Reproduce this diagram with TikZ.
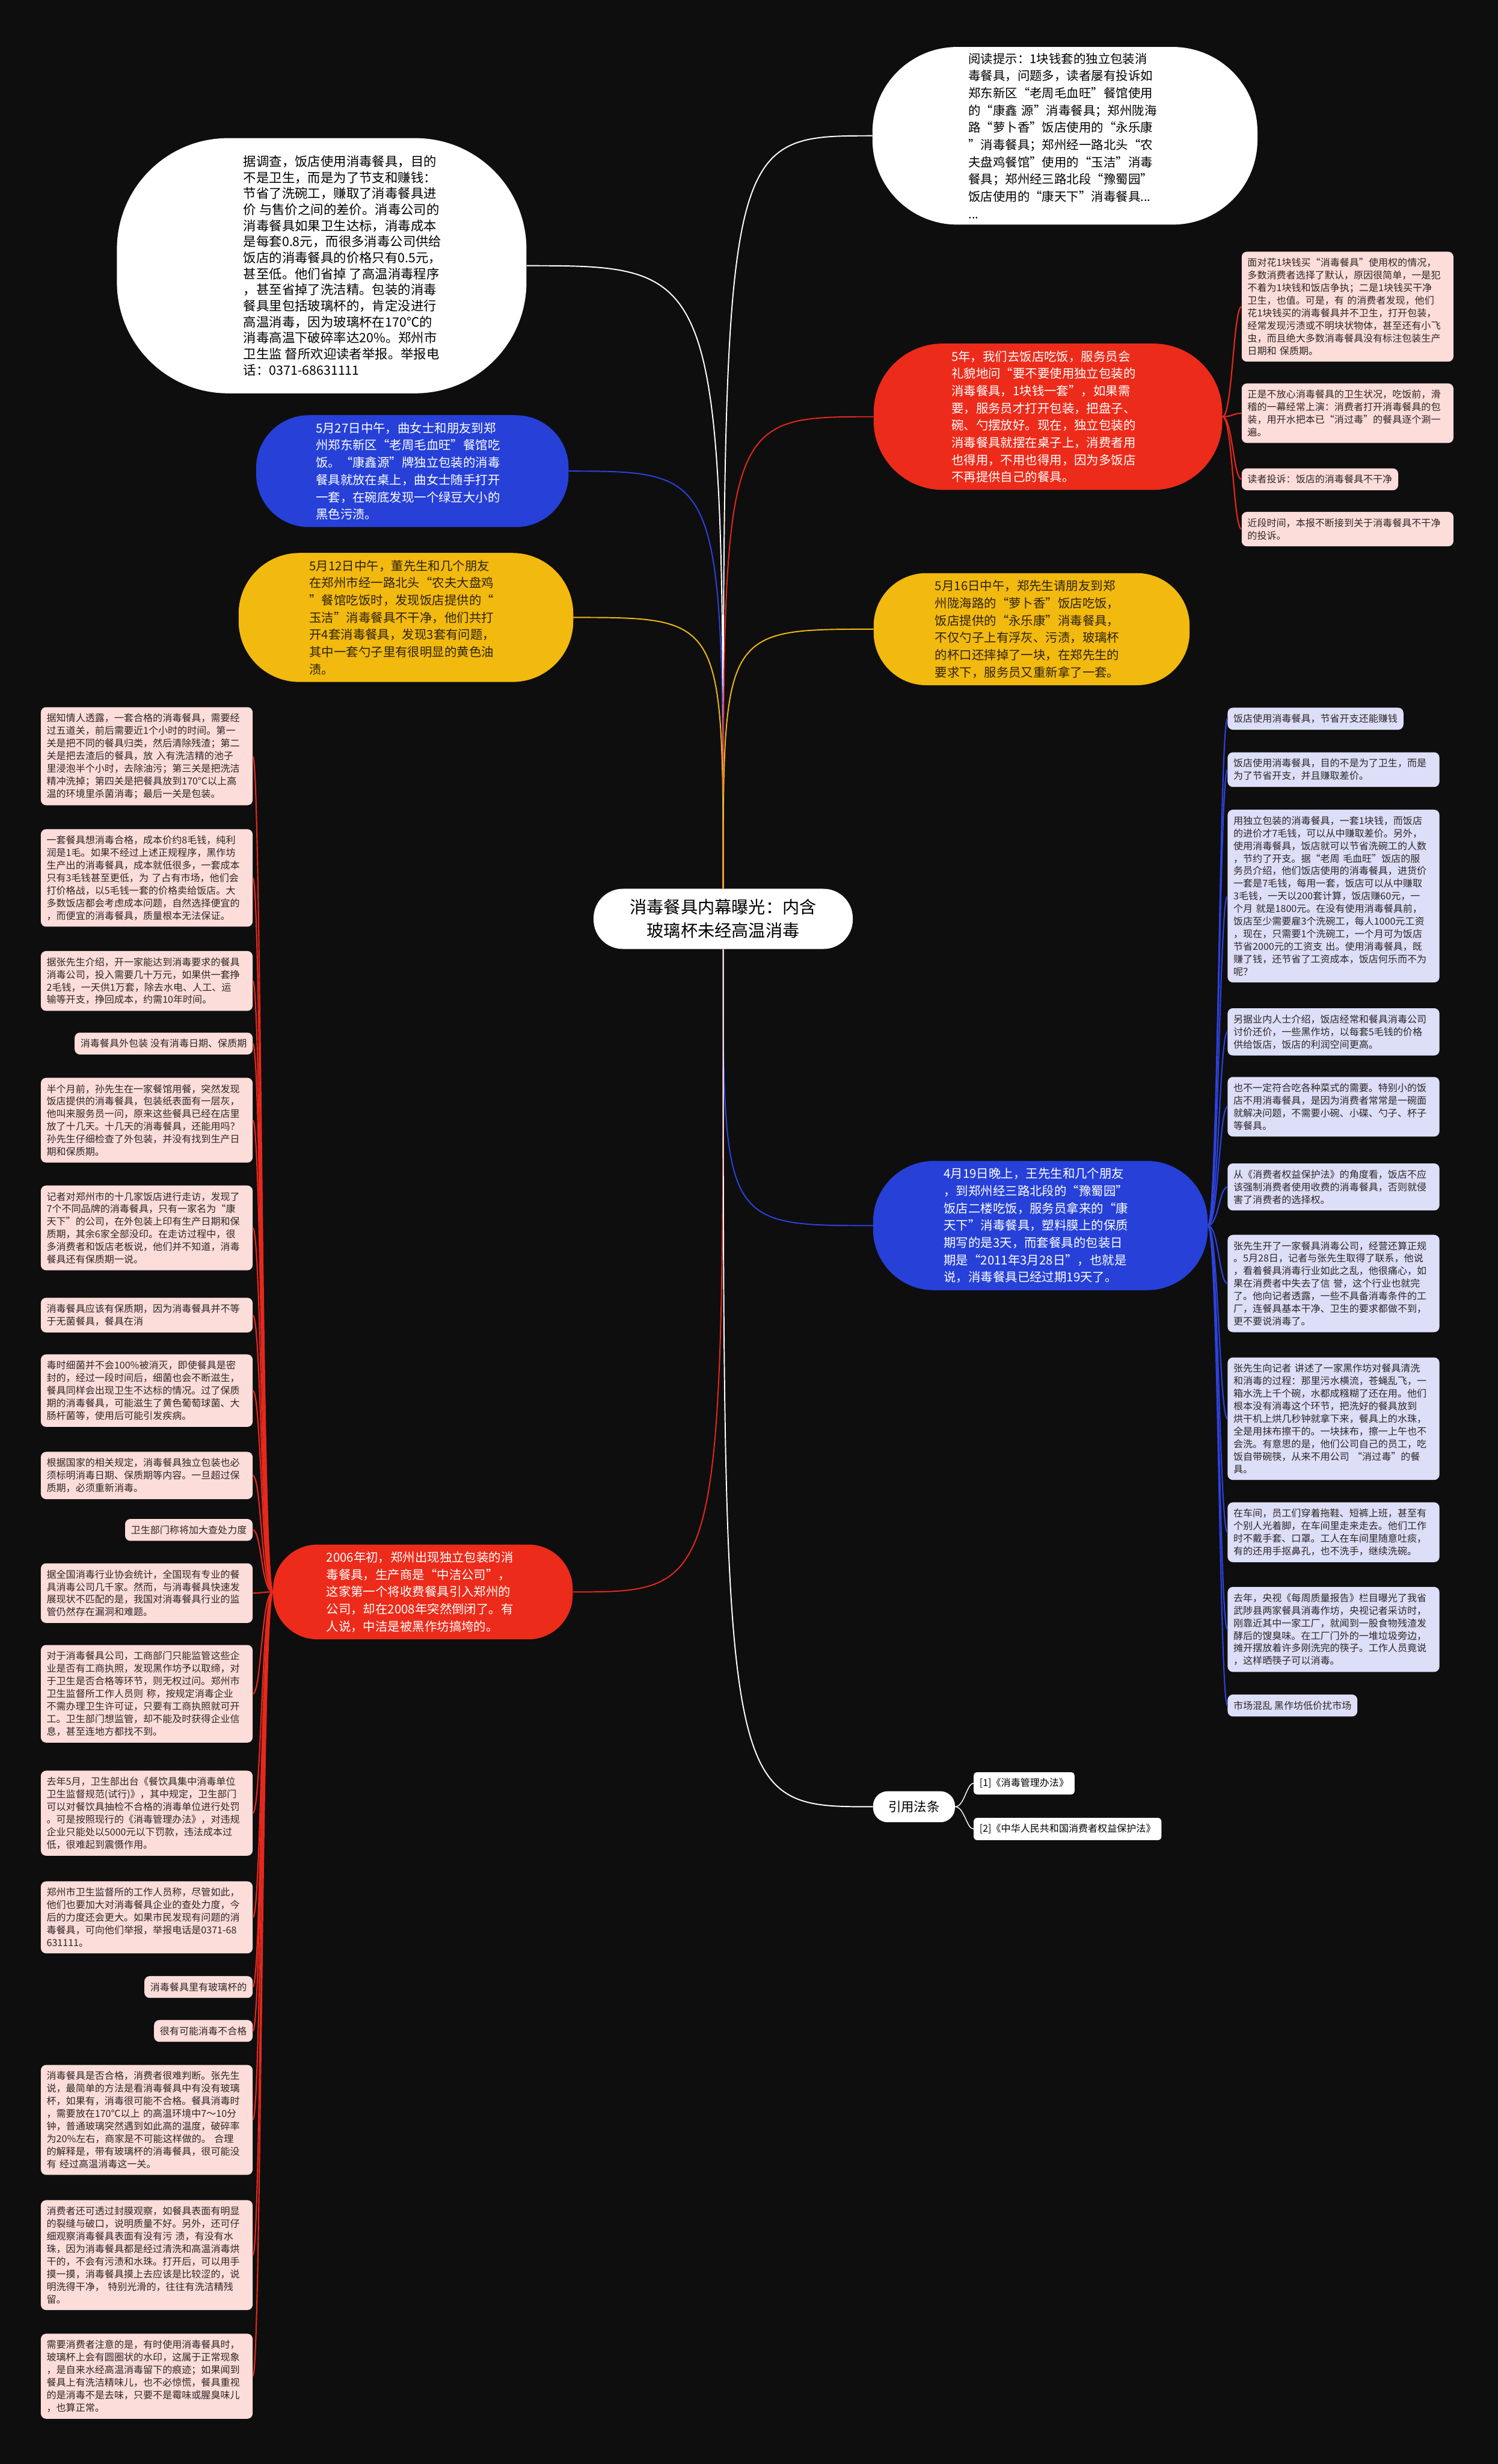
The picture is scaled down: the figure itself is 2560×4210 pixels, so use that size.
\documentclass[tikz,border=0pt]{standalone}
\usepackage{fontspec}
\setmainfont{Noto Sans CJK SC}
\usepackage{xcolor}
\usetikzlibrary{shapes.misc}

\definecolor{bgblack}{RGB}{14,14,14}
\definecolor{pillblue}{RGB}{38,64,216}
\definecolor{pillyellow}{RGB}{242,185,15}
\definecolor{pillred}{RGB}{237,43,26}
\definecolor{pilltext}{RGB}{45,35,10}
\definecolor{boxpink}{RGB}{252,221,217}
\definecolor{boxlav}{RGB}{221,222,247}
\definecolor{boxtext}{RGB}{45,38,40}
\definecolor{linered}{RGB}{230,40,28}
\definecolor{lineblue}{RGB}{45,66,222}

\tikzset{
    pill/.style={rectangle, fill=#1, inner ysep=12pt,
        text width=330pt, align=left, font=\fontsize{21}{29.5}\selectfont},
    pinkbox/.style={rectangle, rounded corners=9pt, fill=boxpink, text=boxtext,
        inner xsep=10pt, inner ysep=11pt, align=left, font=\fontsize{16.5}{21.5}\selectfont},
    lavbox/.style={pinkbox, fill=boxlav},
    wide/.style={text width=342pt},
    lawbox/.style={rectangle, rounded corners=6pt, fill=white, text=black,
        minimum height=38pt, inner xsep=10pt, font=\fontsize{16.5}{19}\selectfont, anchor=west},
    trunk/.style={line width=2pt},
    twig/.style={line width=2.2pt},
}

\begin{document}
\begin{tikzpicture}[x=1pt, y=-1pt]

    \fill[bgblack] (0,0) rectangle (2560,4210);

    % centre

    \node[rectangle, rounded corners=50pt, fill=white, text=black, align=center, inner xsep=62pt, inner ysep=18pt,
        font=\fontsize{29}{40}\selectfont] (root) at (1236,1570) {消毒餐具内幕曝光：内含\\玻璃杯未经高温消毒};

    % upper half

    \node[rectangle, rounded corners=190pt, fill=white, minimum width=700pt, minimum height=436pt,
        anchor=east] (survey) at (900,454) {};
    \node[text=black, inner sep=0pt, align=left, font=\fontsize{22}{27.4}\selectfont, anchor=west] (surveytxt) at (416,454)
        {据调查，饭店使用消毒餐具，目的\\不是卫生，而是为了节支和赚钱：\\节省了洗碗工，赚取了消毒餐具进\\价 与售价之间的差价。消毒公司的\\消毒餐具如果卫生达标，消毒成本\\是每套0.8元，而很多消毒公司供给\\饭店的消毒餐具的价格只有0.5元，\\甚至低。他们省掉 了高温消毒程序\\，甚至省掉了洗洁精。包装的消毒\\餐具里包括玻璃杯的，肯定没进行\\高温消毒，因为玻璃杯在170℃的\\消毒高温下破碎率达20\%。郑州市\\卫生监 督所欢迎读者举报。举报电\\话：0371-68631111};

    \node[pill=pillblue, text=white, inner xsep=102pt, rounded corners=90pt, anchor=east] (may27) at (972,805)
        {5月27日中午，曲女士和朋友到郑\\州郑东新区“老周毛血旺”餐馆吃\\饭。“康鑫源”牌独立包装的消毒\\餐具就放在桌上，曲女士随手打开\\一套，在碗底发现一个绿豆大小的\\黑色污渍。};

    \node[pill=pillyellow, text=pilltext, inner xsep=121pt, rounded corners=104pt, anchor=east] (may12) at (980,1055)
        {5月12日中午，董先生和几个朋友\\在郑州市经一路北头“农夫大盘鸡\\”餐馆吃饭时，发现饭店提供的“\\玉洁”消毒餐具不干净，他们共打\\开4套消毒餐具，发现3套有问题，\\其中一套勺子里有很明显的黄色油\\渍。};

    \node[pill=white, text=black, inner xsep=164pt, inner ysep=10pt, rounded corners=145pt, anchor=west] (hint) at (1491,232)
        {阅读提示：1块钱套的独立包装消\\毒餐具，问题多，读者屡有投诉如\\郑东新区“老周毛血旺”餐馆使用\\的“康鑫 源”消毒餐具；郑州陇海\\路“萝卜香”饭店使用的“永乐康\\”消毒餐具；郑州经一路北头“农\\夫盘鸡餐馆”使用的“玉洁”消毒\\餐具；郑州经三路北段“豫蜀园”\\饭店使用的“康天下”消毒餐具...\\...};

    \node[pill=pillred, text=white, inner xsep=133pt, rounded corners=118pt, anchor=west] (fiveyr) at (1493,712)
        {5年，我们去饭店吃饭，服务员会\\礼貌地问“要不要使用独立包装的\\消毒餐具，1块钱一套”，如果需\\要，服务员才打开包装，把盘子、\\碗、勺摆放好。现在，独立包装的\\消毒餐具就摆在桌子上，消费者用\\也得用，不用也得用，因为多饭店\\不再提供自己的餐具。};

    \node[pill=pillyellow, text=pilltext, inner xsep=105pt, rounded corners=90pt, anchor=west] (may16) at (1493,1075)
        {5月16日中午，郑先生请朋友到郑\\州陇海路的“萝卜香”饭店吃饭，\\饭店提供的“永乐康”消毒餐具，\\不仅勺子上有浮灰、污渍，玻璃杯\\的杯口还摔掉了一块，在郑先生的\\要求下，服务员又重新拿了一套。};

    % complaints

    \node[pinkbox, wide, anchor=west] (p1) at (2122,524) {面对花1块钱买“消毒餐具”使用权的情况，\\多数消费者选择了默认，原因很简单，一是犯\\不着为1块钱和饭店争执；二是1块钱买干净\\卫生，也值。可是，有 的消费者发现，他们\\花1块钱买的消毒餐具并不卫生，打开包装，\\经常发现污渍或不明块状物体，甚至还有小飞\\虫，而且绝大多数消毒餐具没有标注包装生产\\日期和 保质期。};
    \node[pinkbox, wide, anchor=west] (p2) at (2122,706) {正是不放心消毒餐具的卫生状况，吃饭前，滑\\稽的一幕经常上演：消费者打开消毒餐具的包\\装，用开水把本已“消过毒”的餐具逐个涮一\\遍。};
    \node[pinkbox, anchor=west] (p3) at (2122,819) {读者投诉：饭店的消毒餐具不干净};
    \node[pinkbox, wide, anchor=west] (p4) at (2122,904) {近段时间，本报不断接到关于消毒餐具不干净\\的投诉。};

    % lower half

    \node[pill=pillblue, text=white, inner xsep=121pt, rounded corners=104pt, anchor=west] (apr19) at (1492,2094)
        {4月19日晚上，王先生和几个朋友\\，到郑州经三路北段的“豫蜀园”\\饭店二楼吃饭，服务员拿来的“康\\天下”消毒餐具，塑料膜上的保质\\期写的是3天，而套餐具的包装日\\期是“2011年3月28日”，也就是\\说，消毒餐具已经过期19天了。};

    \node[pill=pillred, text=white, inner xsep=91pt, rounded corners=76pt, anchor=east] (y2006) at (979,2720)
        {2006年初，郑州出现独立包装的消\\毒餐具，生产商是“中洁公司”，\\这家第一个将收费餐具引入郑州的\\公司，却在2008年突然倒闭了。有\\人说，中洁是被黑作坊搞垮的。};

    \node[rectangle, rounded corners=25pt, fill=white, text=black, minimum height=53pt, inner xsep=26pt,
        font=\fontsize{22}{26}\selectfont, anchor=west] (laws) at (1492,3087) {引用法条};
    \node[lawbox] (law1) at (1664,3047) {[1]《消毒管理办法》};
    \node[lawbox] (law2) at (1664,3125) {[2]《中华人民共和国消费者权益保护法》};

    % right column

    \node[lavbox, anchor=west] (r1) at (2098,1228) {饭店使用消毒餐具，节省开支还能赚钱};
    \node[lavbox, wide, anchor=west] (r2) at (2098,1315) {饭店使用消毒餐具，目的不是为了卫生，而是\\为了节省开支，并且赚取差价。};
    \node[lavbox, wide, anchor=west] (r3) at (2098,1531) {用独立包装的消毒餐具，一套1块钱，而饭店\\的进价才7毛钱，可以从中赚取差价。另外，\\使用消毒餐具，饭店就可以节省洗碗工的人数\\，节约了开支。据“老周 毛血旺”饭店的服\\务员介绍，他们饭店使用的消毒餐具，进货价\\一套是7毛钱，每用一套，饭店可以从中赚取\\3毛钱，一天以200套计算，饭店赚60元，一\\个月 就是1800元。在没有使用消毒餐具前，\\饭店至少需要雇3个洗碗工，每人1000元工资\\，现在，只需要1个洗碗工，一个月可为饭店\\节省2000元的工资支 出。使用消毒餐具，既\\赚了钱，还节省了工资成本，饭店何乐而不为\\呢？};
    \node[lavbox, wide, anchor=west] (r4) at (2098,1763) {另据业内人士介绍，饭店经常和餐具消毒公司\\讨价还价，一些黑作坊，以每套5毛钱的价格\\供给饭店，饭店的利润空间更高。};
    \node[lavbox, wide, anchor=west] (r5) at (2098,1891) {也不一定符合吃各种菜式的需要。特别小的饭\\店不用消毒餐具，是因为消费者常常是一碗面\\就解决问题，不需要小碗、小碟、勺子、杯子\\等餐具。};
    \node[lavbox, wide, anchor=west] (r6) at (2098,2028) {从《消费者权益保护法》的角度看，饭店不应\\该强制消费者使用收费的消毒餐具，否则就侵\\害了消费者的选择权。};
    \node[lavbox, wide, anchor=west] (r7) at (2098,2193) {张先生开了一家餐具消毒公司，经营还算正规\\。5月28日，记者与张先生取得了联系，他说\\，看着餐具消毒行业如此之乱，他很痛心，如\\果在消费者中失去了信 誉，这个行业也就完\\了。他向记者透露，一些不具备消毒条件的工\\厂，连餐具基本干净、卫生的要求都做不到，\\更不要说消毒了。};
    \node[lavbox, wide, anchor=west] (r8) at (2098,2424) {张先生向记者 讲述了一家黑作坊对餐具清洗\\和消毒的过程：那里污水横流，苍蝇乱飞，一\\箱水洗上千个碗，水都成糨糊了还在用。他们\\根本没有消毒这个环节，把洗好的餐具放到\\烘干机上烘几秒钟就拿下来，餐具上的水珠，\\全是用抹布擦干的。一块抹布，擦一上午也不\\会洗。有意思的是，他们公司自己的员工，吃\\饭自带碗筷，从来不用公司 “消过毒”的餐\\具。};
    \node[lavbox, wide, anchor=west] (r9) at (2098,2618) {在车间，员工们穿着拖鞋、短裤上班，甚至有\\个别人光着脚，在车间里走来走去。他们工作\\时不戴手套、口罩。工人在车间里随意吐痰，\\有的还用手抠鼻孔，也不洗手，继续洗碗。};
    \node[lavbox, wide, anchor=west] (r10) at (2098,2784) {去年，央视《每周质量报告》栏目曝光了我省\\武陟县两家餐具消毒作坊，央视记者采访时，\\刚靠近其中一家工厂，就闻到一股食物残渣发\\酵后的馊臭味。在工厂门外的一堆垃圾旁边，\\摊开摆放着许多刚洗完的筷子。工作人员竟说\\，这样晒筷子可以消毒。};
    \node[lavbox, anchor=west] (r11) at (2098,2914) {市场混乱 黑作坊低价扰市场};

    % left column

    \node[pinkbox, wide, anchor=east] (q1) at (432,1292) {据知情人透露，一套合格的消毒餐具，需要经\\过五道关，前后需要近1个小时的时间。第一\\关是把不同的餐具归类，然后清除残渣；第二\\关是把去渣后的餐具，放 入有洗洁精的池子\\里浸泡半个小时，去除油污；第三关是把洗洁\\精冲洗掉；第四关是把餐具放到170℃以上高\\温的环境里杀菌消毒；最后一关是包装。};
    \node[pinkbox, wide, anchor=east] (q2) at (432,1500) {一套餐具想消毒合格，成本价约8毛钱，纯利\\润是1毛。如果不经过上述正规程序，黑作坊\\生产出的消毒餐具，成本就低很多，一套成本\\只有3毛钱甚至更低，为 了占有市场，他们会\\打价格战，以5毛钱一套的价格卖给饭店。大\\多数饭店都会考虑成本问题，自然选择便宜的\\，而便宜的消毒餐具，质量根本无法保证。};
    \node[pinkbox, wide, anchor=east] (q3) at (432,1676) {据张先生介绍，开一家能达到消毒要求的餐具\\消毒公司，投入需要几十万元，如果供一套挣\\2毛钱，一天供1万套，除去水电、人工、运\\输等开支，挣回成本，约需10年时间。};
    \node[pinkbox, anchor=east] (q4) at (432,1783) {消毒餐具外包装 没有消毒日期、保质期};
    \node[pinkbox, wide, anchor=east] (q5) at (432,1914) {半个月前，孙先生在一家餐馆用餐，突然发现\\饭店提供的消毒餐具，包装纸表面有一层灰，\\他叫来服务员一问，原来这些餐具已经在店里\\放了十几天。十几天的消毒餐具，还能用吗？\\孙先生仔细检查了外包装，并没有找到生产日\\期和保质期。};
    \node[pinkbox, wide, anchor=east] (q6) at (432,2098) {记者对郑州市的十几家饭店进行走访，发现了\\7个不同品牌的消毒餐具，只有一家名为“康\\天下”的公司，在外包装上印有生产日期和保\\质期，其余6家全部没印。在走访过程中，很\\多消费者和饭店老板说，他们并不知道，消毒\\餐具还有保质期一说。};
    \node[pinkbox, wide, anchor=east] (q7) at (432,2247) {消毒餐具应该有保质期，因为消毒餐具并不等\\于无菌餐具，餐具在消};
    \node[pinkbox, wide, anchor=east] (q8) at (432,2376) {毒时细菌并不会100\%被消灭，即使餐具是密\\封的，经过一段时间后，细菌也会不断滋生，\\餐具同样会出现卫生不达标的情况。过了保质\\期的消毒餐具，可能滋生了黄色葡萄球菌、大\\肠杆菌等，使用后可能引发疾病。};
    \node[pinkbox, wide, anchor=east] (q9) at (432,2521) {根据国家的相关规定，消毒餐具独立包装也必\\须标明消毒日期、保质期等内容。一旦超过保\\质期，必须重新消毒。};
    \node[pinkbox, anchor=east] (q10) at (432,2614) {卫生部门称将加大查处力度};
    \node[pinkbox, wide, anchor=east] (q11) at (432,2722) {据全国消毒行业协会统计，全国现有专业的餐\\具消毒公司几千家。然而，与消毒餐具快速发\\展现状不匹配的是，我国对消毒餐具行业的监\\管仍然存在漏洞和难题。};
    \node[pinkbox, wide, anchor=east] (q12) at (432,2894) {对于消毒餐具公司，工商部门只能监管这些企\\业是否有工商执照，发现黑作坊予以取缔，对\\于卫生是否合格等环节，则无权过问。郑州市\\卫生监督所工作人员则 称，按规定消毒企业\\不需办理卫生许可证，只要有工商执照就可开\\工。卫生部门想监管，却不能及时获得企业信\\息，甚至连地方都找不到。};
    \node[pinkbox, wide, anchor=east] (q13) at (432,3098) {去年5月，卫生部出台《餐饮具集中消毒单位\\卫生监督规范(试行)》，其中规定，卫生部门\\可以对餐饮具抽检不合格的消毒单位进行处罚\\。可是按照现行的《消毒管理办法》，对违规\\企业只能处以5000元以下罚款，违法成本过\\低，很难起到震慑作用。};
    \node[pinkbox, wide, anchor=east] (q14) at (432,3276) {郑州市卫生监督所的工作人员称，尽管如此，\\他们也要加大对消毒餐具企业的查处力度，今\\后的力度还会更大。如果市民发现有问题的消\\毒餐具，可向他们举报，举报电话是0371-68\\631111。};
    \node[pinkbox, anchor=east] (q15) at (432,3395) {消毒餐具里有玻璃杯的};
    \node[pinkbox, anchor=east] (q16) at (432,3470) {很有可能消毒不合格};
    \node[pinkbox, wide, anchor=east] (q17) at (432,3622) {消毒餐具是否合格，消费者很难判断。张先生\\说，最简单的方法是看消毒餐具中有没有玻璃\\杯，如果有，消毒很可能不合格。餐具消毒时\\，需要放在170℃以上 的高温环境中7～10分\\钟，普通玻璃突然遇到如此高的温度，破碎率\\为20\%左右，商家是不可能这样做的。 合理\\的解释是，带有玻璃杯的消毒餐具，很可能没\\有 经过高温消毒这一关。};
    \node[pinkbox, wide, anchor=east] (q18) at (432,3853) {消费者还可透过封膜观察，如餐具表面有明显\\的裂缝与破口，说明质量不好。另外，还可仔\\细观察消毒餐具表面有没有污 渍，有没有水\\珠，因为消毒餐具都是经过清洗和高温消毒烘\\干的，不会有污渍和水珠。打开后，可以用手\\摸一摸，消毒餐具摸上去应该是比较涩的，说\\明洗得干净， 特别光滑的，往往有洗洁精残\\留。};
    \node[pinkbox, wide, anchor=east] (q19) at (432,4060) {需要消费者注意的是，有时使用消毒餐具时，\\玻璃杯上会有圆圈状的水印，这属于正常现象\\，是自来水经高温消毒留下的痕迹；如果闻到\\餐具上有洗洁精味儿，也不必惊慌，餐具重视\\的是消毒不是去味，只要不是霉味或腥臭味儿\\，也算正常。};

    % connectors

    \foreach \c/\col in {survey/white, may27/lineblue, may12/pillyellow}
        \draw[trunk, draw=\col] (root.north) .. controls (root.north |- \c.east) .. (\c.east);
    \foreach \c/\col in {hint/white, fiveyr/linered, may16/pillyellow}
        \draw[trunk, draw=\col] (root.north) .. controls (root.north |- \c.west) .. (\c.west);
    \draw[trunk, lineblue] (root.south) .. controls (root.south |- apr19.west) .. (apr19.west);
    \draw[trunk, linered] (root.south) .. controls (root.south |- y2006.east) .. (y2006.east);
    \draw[trunk, white] (root.south) .. controls (root.south |- laws.west) .. (laws.west);

    \foreach \n in {1,...,4}
        \draw[twig, linered] (fiveyr.east) .. controls +(17,0) and +(-14,0) .. (p\n.west);
    \foreach \n in {1,...,11}
        \draw[twig, lineblue] (apr19.east) .. controls +(18,0) and +(-14,0) .. (r\n.west);
    \foreach \n in {1,...,19}
        \draw[twig, linered] (y2006.west) .. controls +(-20,0) and +(15,0) .. (q\n.east);
    \foreach \n in {1,2}
        \draw[line width=1.5pt, white] (laws.east) .. controls +(16,0) and +(-12,0) .. (law\n.west);

\end{tikzpicture}
\end{document}
